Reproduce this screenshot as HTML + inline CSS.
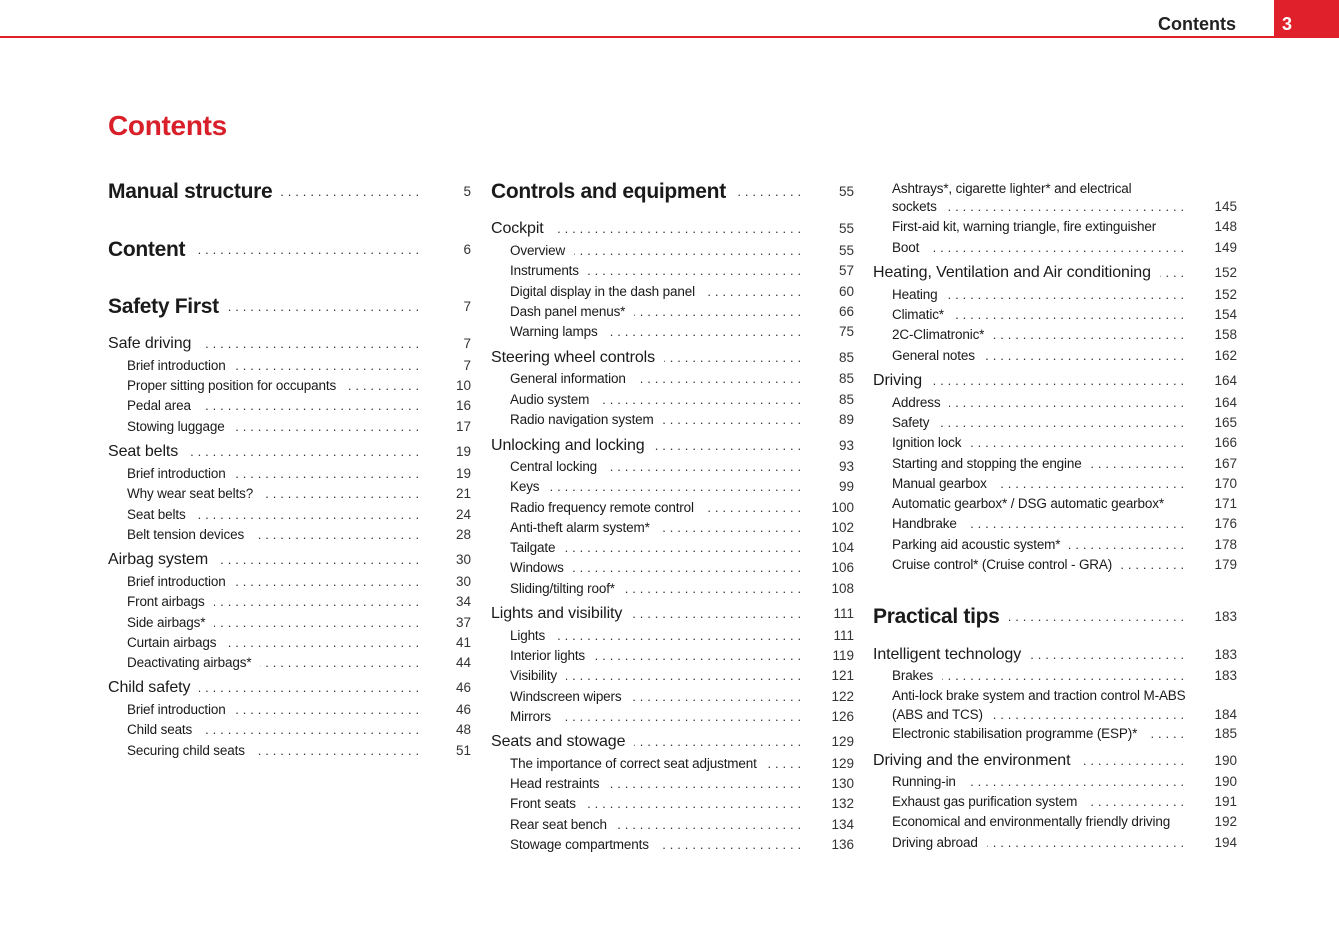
<!DOCTYPE html>
<html><head><meta charset="utf-8"><style>
body{margin:0;width:1339px;height:945px;background:#fff;position:relative;overflow:hidden;font-family:"Liberation Sans","DejaVu Sans",sans-serif;color:#1a1a1a}
.hl{position:absolute;left:0;top:36px;width:1339px;height:2px;background:#e0202a}
.hb{position:absolute;left:1274px;top:0;width:65px;height:37px;background:#e0202a;color:#fff;font-weight:bold;font-size:18px;line-height:48px;padding-left:8px;box-sizing:border-box}
.ht{position:absolute;right:103px;top:12px;font-weight:bold;font-size:18px;line-height:24px;color:#222}
.title{position:absolute;left:108px;top:108px;font-size:28px;font-weight:bold;color:#d9202a;line-height:36px;letter-spacing:-0.3px}
.e{position:absolute;display:flex;height:20px;line-height:20px;white-space:nowrap;font-size:13.5px;letter-spacing:-0.15px;box-sizing:border-box;padding-left:19px;transform:translateY(1px)}
.e.l2{font-size:16px;padding-left:0;letter-spacing:-0.1px}
.e.b{font-size:21px;font-weight:bold;padding-left:0;height:28px;line-height:28px;letter-spacing:-0.3px}
.t{padding-right:9px}
.d{flex:1;overflow:hidden;direction:rtl;font-size:13px;font-weight:normal;letter-spacing:3.9px;color:#333}
.n{position:absolute;left:100%;width:48px;text-align:right;font-size:13.5px;font-weight:normal;letter-spacing:0;color:#333}
.c1{left:108px;width:315px}.c2{left:491px;width:314px}.c3{left:873px;width:315px}
.c2 .n,.c3 .n{width:49px}
</style></head><body>
<div class="hl"></div><div class="hb">3</div><div class="ht">Contents</div>
<div class="title">Contents</div>

<div class="e b c1" style="top:177px"><span class="t">Manual structure</span><span class="d">..............................................................</span><span class="n">5</span></div>
<div class="e b c1" style="top:235px"><span class="t">Content</span><span class="d">..............................................................</span><span class="n">6</span></div>
<div class="e b c1" style="top:292px"><span class="t">Safety First</span><span class="d">..............................................................</span><span class="n">7</span></div>
<div class="e l2 c1" style="top:333px"><span class="t">Safe driving</span><span class="d">..............................................................</span><span class="n">7</span></div>
<div class="e c1" style="top:355px"><span class="t">Brief introduction</span><span class="d">..............................................................</span><span class="n">7</span></div>
<div class="e c1" style="top:375px"><span class="t">Proper sitting position for occupants</span><span class="d">..............................................................</span><span class="n">10</span></div>
<div class="e c1" style="top:395px"><span class="t">Pedal area</span><span class="d">..............................................................</span><span class="n">16</span></div>
<div class="e c1" style="top:416px"><span class="t">Stowing luggage</span><span class="d">..............................................................</span><span class="n">17</span></div>
<div class="e l2 c1" style="top:441px"><span class="t">Seat belts</span><span class="d">..............................................................</span><span class="n">19</span></div>
<div class="e c1" style="top:463px"><span class="t">Brief introduction</span><span class="d">..............................................................</span><span class="n">19</span></div>
<div class="e c1" style="top:483px"><span class="t">Why wear seat belts?</span><span class="d">..............................................................</span><span class="n">21</span></div>
<div class="e c1" style="top:504px"><span class="t">Seat belts</span><span class="d">..............................................................</span><span class="n">24</span></div>
<div class="e c1" style="top:524px"><span class="t">Belt tension devices</span><span class="d">..............................................................</span><span class="n">28</span></div>
<div class="e l2 c1" style="top:549px"><span class="t">Airbag system</span><span class="d">..............................................................</span><span class="n">30</span></div>
<div class="e c1" style="top:571px"><span class="t">Brief introduction</span><span class="d">..............................................................</span><span class="n">30</span></div>
<div class="e c1" style="top:591px"><span class="t">Front airbags</span><span class="d">..............................................................</span><span class="n">34</span></div>
<div class="e c1" style="top:612px"><span class="t">Side airbags*</span><span class="d">..............................................................</span><span class="n">37</span></div>
<div class="e c1" style="top:632px"><span class="t">Curtain airbags</span><span class="d">..............................................................</span><span class="n">41</span></div>
<div class="e c1" style="top:652px"><span class="t">Deactivating airbags*</span><span class="d">..............................................................</span><span class="n">44</span></div>
<div class="e l2 c1" style="top:677px"><span class="t">Child safety</span><span class="d">..............................................................</span><span class="n">46</span></div>
<div class="e c1" style="top:699px"><span class="t">Brief introduction</span><span class="d">..............................................................</span><span class="n">46</span></div>
<div class="e c1" style="top:719px"><span class="t">Child seats</span><span class="d">..............................................................</span><span class="n">48</span></div>
<div class="e c1" style="top:740px"><span class="t">Securing child seats</span><span class="d">..............................................................</span><span class="n">51</span></div>

<div class="e b c2" style="top:177px"><span class="t">Controls and equipment</span><span class="d">..............................................................</span><span class="n">55</span></div>
<div class="e l2 c2" style="top:218px"><span class="t">Cockpit</span><span class="d">..............................................................</span><span class="n">55</span></div>
<div class="e c2" style="top:240px"><span class="t">Overview</span><span class="d">..............................................................</span><span class="n">55</span></div>
<div class="e c2" style="top:260px"><span class="t">Instruments</span><span class="d">..............................................................</span><span class="n">57</span></div>
<div class="e c2" style="top:281px"><span class="t">Digital display in the dash panel</span><span class="d">..............................................................</span><span class="n">60</span></div>
<div class="e c2" style="top:301px"><span class="t">Dash panel menus*</span><span class="d">..............................................................</span><span class="n">66</span></div>
<div class="e c2" style="top:321px"><span class="t">Warning lamps</span><span class="d">..............................................................</span><span class="n">75</span></div>
<div class="e l2 c2" style="top:347px"><span class="t">Steering wheel controls</span><span class="d">..............................................................</span><span class="n">85</span></div>
<div class="e c2" style="top:368px"><span class="t">General information</span><span class="d">..............................................................</span><span class="n">85</span></div>
<div class="e c2" style="top:389px"><span class="t">Audio system</span><span class="d">..............................................................</span><span class="n">85</span></div>
<div class="e c2" style="top:409px"><span class="t">Radio navigation system</span><span class="d">..............................................................</span><span class="n">89</span></div>
<div class="e l2 c2" style="top:435px"><span class="t">Unlocking and locking</span><span class="d">..............................................................</span><span class="n">93</span></div>
<div class="e c2" style="top:456px"><span class="t">Central locking</span><span class="d">..............................................................</span><span class="n">93</span></div>
<div class="e c2" style="top:476px"><span class="t">Keys</span><span class="d">..............................................................</span><span class="n">99</span></div>
<div class="e c2" style="top:497px"><span class="t">Radio frequency remote control</span><span class="d">..............................................................</span><span class="n">100</span></div>
<div class="e c2" style="top:517px"><span class="t">Anti-theft alarm system*</span><span class="d">..............................................................</span><span class="n">102</span></div>
<div class="e c2" style="top:537px"><span class="t">Tailgate</span><span class="d">..............................................................</span><span class="n">104</span></div>
<div class="e c2" style="top:557px"><span class="t">Windows</span><span class="d">..............................................................</span><span class="n">106</span></div>
<div class="e c2" style="top:578px"><span class="t">Sliding/tilting roof*</span><span class="d">..............................................................</span><span class="n">108</span></div>
<div class="e l2 c2" style="top:603px"><span class="t">Lights and visibility</span><span class="d">..............................................................</span><span class="n">111</span></div>
<div class="e c2" style="top:625px"><span class="t">Lights</span><span class="d">..............................................................</span><span class="n">111</span></div>
<div class="e c2" style="top:645px"><span class="t">Interior lights</span><span class="d">..............................................................</span><span class="n">119</span></div>
<div class="e c2" style="top:665px"><span class="t">Visibility</span><span class="d">..............................................................</span><span class="n">121</span></div>
<div class="e c2" style="top:686px"><span class="t">Windscreen wipers</span><span class="d">..............................................................</span><span class="n">122</span></div>
<div class="e c2" style="top:706px"><span class="t">Mirrors</span><span class="d">..............................................................</span><span class="n">126</span></div>
<div class="e l2 c2" style="top:731px"><span class="t">Seats and stowage</span><span class="d">..............................................................</span><span class="n">129</span></div>
<div class="e c2" style="top:753px"><span class="t">The importance of correct seat adjustment</span><span class="d">..............................................................</span><span class="n">129</span></div>
<div class="e c2" style="top:773px"><span class="t">Head restraints</span><span class="d">..............................................................</span><span class="n">130</span></div>
<div class="e c2" style="top:793px"><span class="t">Front seats</span><span class="d">..............................................................</span><span class="n">132</span></div>
<div class="e c2" style="top:814px"><span class="t">Rear seat bench</span><span class="d">..............................................................</span><span class="n">134</span></div>
<div class="e c2" style="top:834px"><span class="t">Stowage compartments</span><span class="d">..............................................................</span><span class="n">136</span></div>

<div class="e c3" style="top:178px"><span class="t">Ashtrays*, cigarette lighter* and electrical</span></div>
<div class="e c3" style="top:196px"><span class="t">sockets</span><span class="d">..............................................................</span><span class="n">145</span></div>
<div class="e c3" style="top:216px"><span class="t">First-aid kit, warning triangle, fire extinguisher</span><span class="n">148</span></div>
<div class="e c3" style="top:237px"><span class="t">Boot</span><span class="d">..............................................................</span><span class="n">149</span></div>
<div class="e l2 c3" style="top:262px"><span class="t">Heating, Ventilation and Air conditioning</span><span class="d">..............................................................</span><span class="n">152</span></div>
<div class="e c3" style="top:284px"><span class="t">Heating</span><span class="d">..............................................................</span><span class="n">152</span></div>
<div class="e c3" style="top:304px"><span class="t">Climatic*</span><span class="d">..............................................................</span><span class="n">154</span></div>
<div class="e c3" style="top:324px"><span class="t">2C-Climatronic*</span><span class="d">..............................................................</span><span class="n">158</span></div>
<div class="e c3" style="top:345px"><span class="t">General notes</span><span class="d">..............................................................</span><span class="n">162</span></div>
<div class="e l2 c3" style="top:370px"><span class="t">Driving</span><span class="d">..............................................................</span><span class="n">164</span></div>
<div class="e c3" style="top:392px"><span class="t">Address</span><span class="d">..............................................................</span><span class="n">164</span></div>
<div class="e c3" style="top:412px"><span class="t">Safety</span><span class="d">..............................................................</span><span class="n">165</span></div>
<div class="e c3" style="top:432px"><span class="t">Ignition lock</span><span class="d">..............................................................</span><span class="n">166</span></div>
<div class="e c3" style="top:453px"><span class="t">Starting and stopping the engine</span><span class="d">..............................................................</span><span class="n">167</span></div>
<div class="e c3" style="top:473px"><span class="t">Manual gearbox</span><span class="d">..............................................................</span><span class="n">170</span></div>
<div class="e c3" style="top:493px"><span class="t">Automatic gearbox* / DSG automatic gearbox*</span><span class="n">171</span></div>
<div class="e c3" style="top:513px"><span class="t">Handbrake</span><span class="d">..............................................................</span><span class="n">176</span></div>
<div class="e c3" style="top:534px"><span class="t">Parking aid acoustic system*</span><span class="d">..............................................................</span><span class="n">178</span></div>
<div class="e c3" style="top:554px"><span class="t">Cruise control* (Cruise control - GRA)</span><span class="d">..............................................................</span><span class="n">179</span></div>
<div class="e b c3" style="top:602px"><span class="t">Practical tips</span><span class="d">..............................................................</span><span class="n">183</span></div>
<div class="e l2 c3" style="top:644px"><span class="t">Intelligent technology</span><span class="d">..............................................................</span><span class="n">183</span></div>
<div class="e c3" style="top:665px"><span class="t">Brakes</span><span class="d">..............................................................</span><span class="n">183</span></div>
<div class="e c3" style="top:685px"><span class="t">Anti-lock brake system and traction control M-ABS</span></div>
<div class="e c3" style="top:704px"><span class="t">(ABS and TCS)</span><span class="d">..............................................................</span><span class="n">184</span></div>
<div class="e c3" style="top:723px"><span class="t">Electronic stabilisation programme (ESP)*</span><span class="d">..............................................................</span><span class="n">185</span></div>
<div class="e l2 c3" style="top:750px"><span class="t">Driving and the environment</span><span class="d">..............................................................</span><span class="n">190</span></div>
<div class="e c3" style="top:771px"><span class="t">Running-in</span><span class="d">..............................................................</span><span class="n">190</span></div>
<div class="e c3" style="top:791px"><span class="t">Exhaust gas purification system</span><span class="d">..............................................................</span><span class="n">191</span></div>
<div class="e c3" style="top:811px"><span class="t">Economical and environmentally friendly driving</span><span class="n">192</span></div>
<div class="e c3" style="top:832px"><span class="t">Driving abroad</span><span class="d">..............................................................</span><span class="n">194</span></div>
</body></html>
